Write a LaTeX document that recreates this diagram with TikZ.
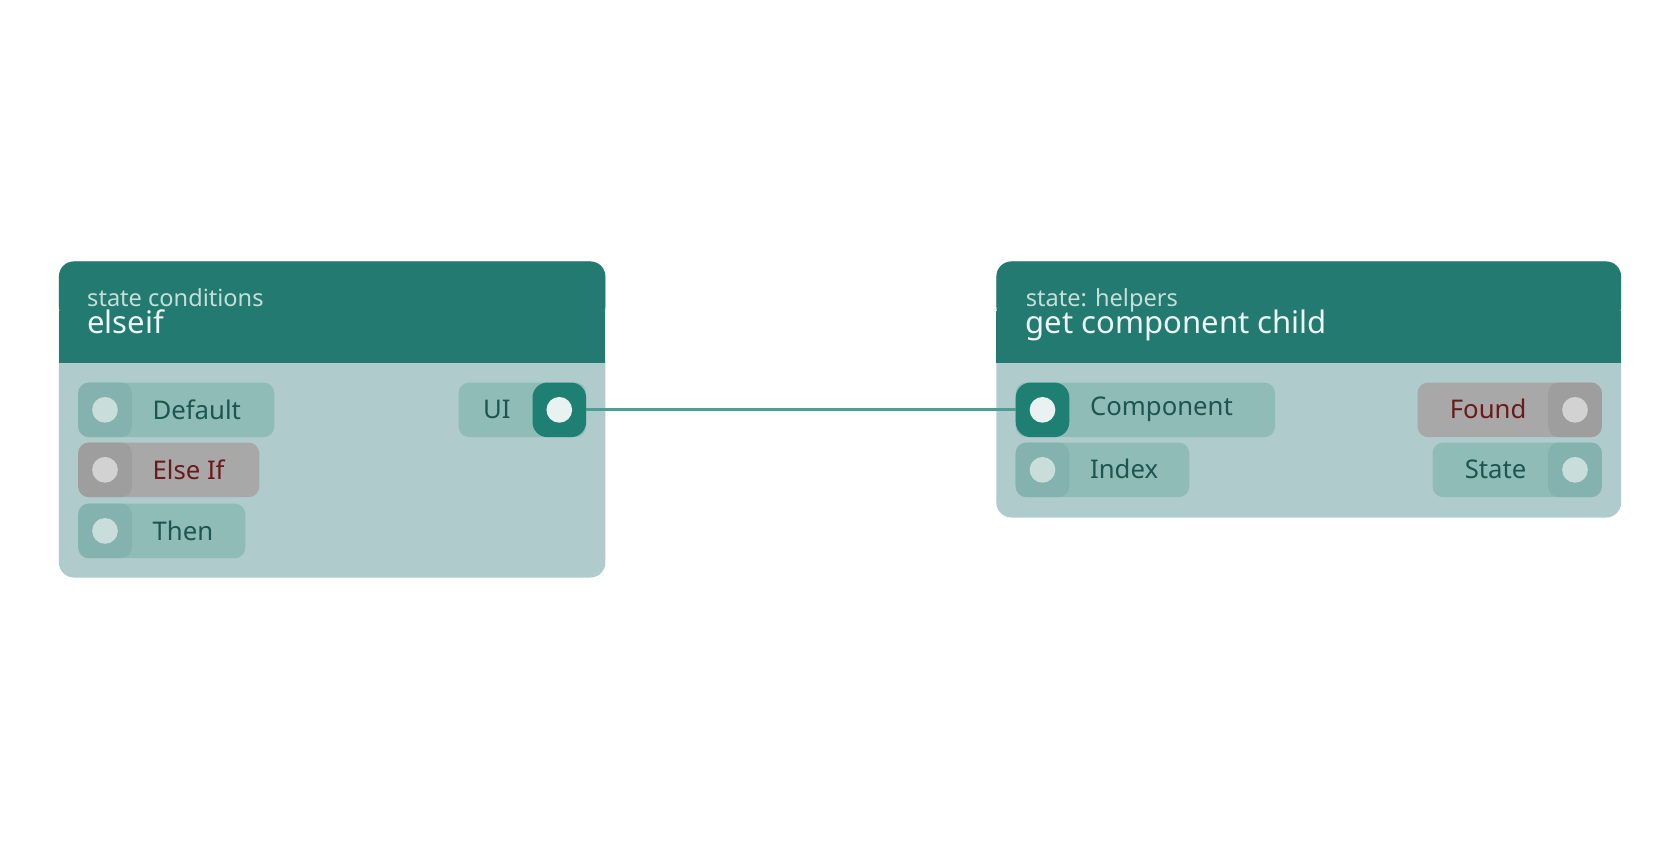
\documentclass[tikz,border=0pt]{standalone}
\usepackage{fontspec}
\setmainfont{Noto Sans}
\definecolor{hdr}{HTML}{237A70}
\definecolor{bodyc}{HTML}{B0CBCB}
\definecolor{pill}{HTML}{90BCB8}
\definecolor{pilld}{HTML}{84B2AF}
\definecolor{dot}{HTML}{C9DDDA}
\definecolor{gpill}{HTML}{A8A8A8}
\definecolor{gpilld}{HTML}{9E9E9E}
\definecolor{gdot}{HTML}{D2D2D2}
\definecolor{act}{HTML}{1E8073}
\definecolor{wire}{HTML}{4A9E95}
\definecolor{ptxt}{HTML}{1D5550}
\definecolor{rtxt}{HTML}{6B1A1A}
\definecolor{subt}{HTML}{C6DED9}
\begin{document}
\begin{tikzpicture}[x=0.5pt,y=-0.5pt,
  lbl/.style={font=\fontsize{12}{14}\selectfont, text=ptxt, inner sep=0},
  sub/.style={font=\fontsize{11}{12}\selectfont, text=subt, inner sep=0, anchor=base west},
  ttl/.style={font=\fontsize{14.5}{16}\selectfont, text=white!92!hdr, inner sep=0, anchor=base west}]
\useasboundingbox (0,0) rectangle (1568,784);
\fill[white] (0,0) rectangle (1568,784);
% left node
\fill[bodyc,rounded corners=7pt] (55,244) rectangle (565,539);
\fill[hdr,rounded corners=7pt] (55,244) rectangle (565,300);
\fill[hdr] (55,290) rectangle (565,339);
\node[sub] (ln1) at (81,286) {state conditions};
\node[ttl] (ln2) at (81,311) {elseif};
% Default
\fill[pill,rounded corners=5pt] (73,357) rectangle (256,408);
\fill[pilld,rounded corners=5pt] (73,357) rectangle (123,408);
\fill[dot] (98,382.5) circle (12);
\node[lbl,anchor=west] (pdef) at (142,382) {Default};
% Else If
\fill[gpill,rounded corners=5pt] (73,413) rectangle (242,464);
\fill[gpilld,rounded corners=5pt] (73,413) rectangle (123,464);
\fill[gdot] (98,438.5) circle (12);
\node[lbl,anchor=west,text=rtxt] (pelse) at (142,438) {Else If};
% Then
\fill[pill,rounded corners=5pt] (73,470) rectangle (229,521);
\fill[pilld,rounded corners=5pt] (73,470) rectangle (123,521);
\fill[dot] (98,495.5) circle (12);
\node[lbl,anchor=west] (pthen) at (142,495) {Then};
% UI
\fill[pill,rounded corners=5pt] (428,357) rectangle (547,408);
\fill[act,rounded corners=7pt] (497,357) rectangle (547,408);
\fill[white!90!act] (522,382.5) circle (12);
\coordinate (ui) at (547,382);
\node[lbl,anchor=east] (pui) at (477,382) {UI};
% right node
\fill[bodyc,rounded corners=7pt] (930,244) rectangle (1513,483);
\fill[hdr,rounded corners=7pt] (930,244) rectangle (1513,300);
\fill[hdr] (930,290) rectangle (1513,339);
\node[sub] (rn1) at (957,286) {state: helpers};
\node[ttl] (rn2) at (957,311) {get component child};
% Component
\fill[pill,rounded corners=5pt] (948,357) rectangle (1190,408);
\fill[act,rounded corners=7pt] (948,357) rectangle (998,408);
\fill[white!90!act] (973,382.5) circle (12);
\coordinate (comp) at (948,382);
\node[lbl,anchor=west] (pcomp) at (1017,382) {Component};
% Index
\fill[pill,rounded corners=5pt] (948,413) rectangle (1110,464);
\fill[pilld,rounded corners=5pt] (948,413) rectangle (998,464);
\fill[dot] (973,438.5) circle (12);
\node[lbl,anchor=west] (pidx) at (1017,438) {Index};
% Found
\fill[gpill,rounded corners=5pt] (1323,357) rectangle (1495,408);
\fill[gpilld,rounded corners=5pt] (1445,357) rectangle (1495,408);
\fill[gdot] (1470,382.5) circle (12);
\node[lbl,anchor=east,text=rtxt] (pfound) at (1425,382) {Found};
% State
\fill[pill,rounded corners=5pt] (1337,413) rectangle (1495,464);
\fill[pilld,rounded corners=5pt] (1445,413) rectangle (1495,464);
\fill[dot] (1470,438.5) circle (12);
\node[lbl,anchor=east] (pstate) at (1425,438) {State};
% wire
\draw[wire,line width=1.5pt] (ui) -- (comp);
\end{tikzpicture}
\end{document}
